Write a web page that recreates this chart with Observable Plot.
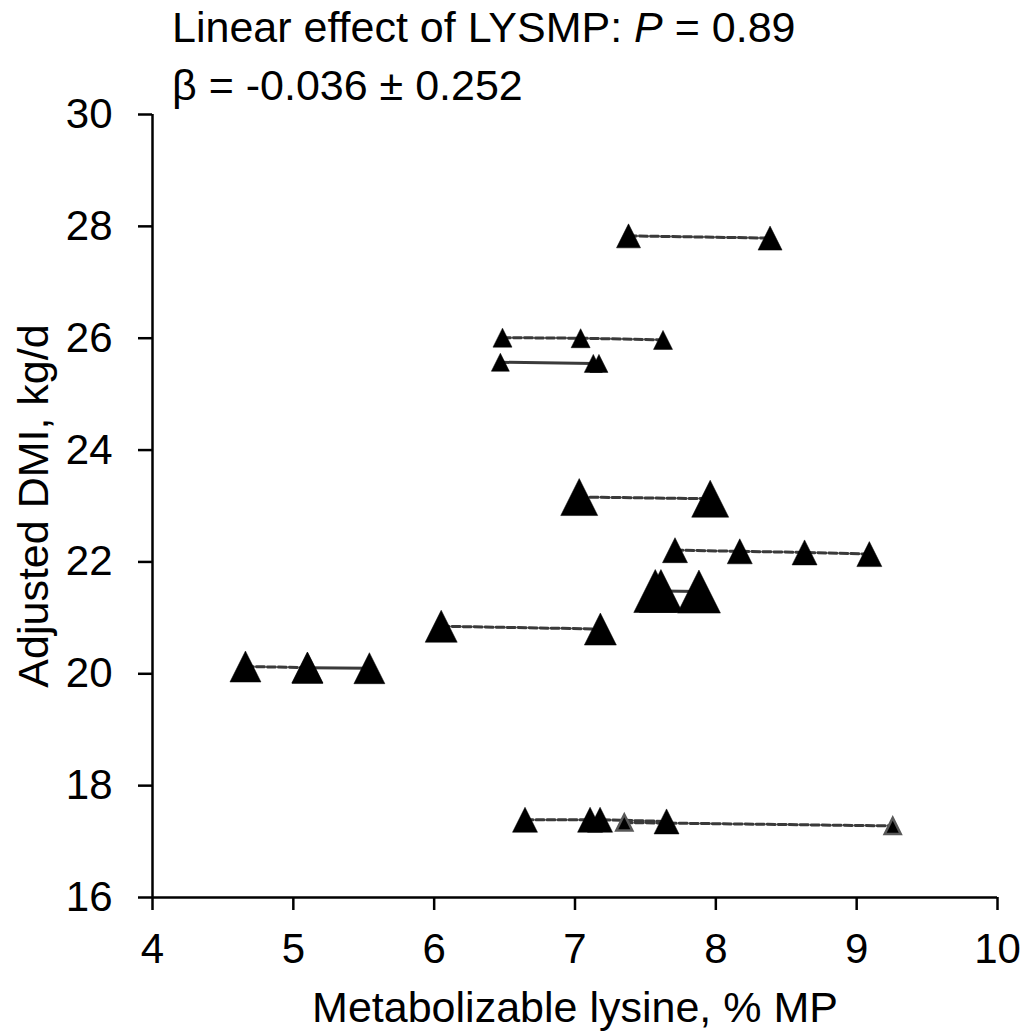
<!DOCTYPE html>
<html><head><meta charset="utf-8">
<script src="https://cdn.jsdelivr.net/npm/d3@7"></script>
<script src="https://cdn.jsdelivr.net/npm/@observablehq/plot@0.6"></script>
<style>
body{margin:0;background:#fff;}
#wrap{position:relative;width:1025px;height:1031px;}
#title{position:absolute;left:172px;top:-2px;font-family:"Liberation Sans",Arial,sans-serif;font-size:43px;line-height:58px;color:#000;white-space:nowrap;}
</style></head><body>
<div id="wrap"><div id="chart"></div><div id="title"><div>Linear effect of LYSMP: <i>P</i> = 0.89</div><div>β = -0.036 ± 0.252</div></div></div>
<script>
// Metabolizable lysine, % MP
const lysine = [7.38, 8.385,
  6.485, 7.04, 7.625,
  6.47, 7.13, 7.17,
  7.03, 7.96,
  7.71, 8.17, 8.63, 9.09,
  7.57, 7.61, 7.88,
  6.05, 7.18,
  4.66, 5.10,
  5.10, 5.54,
  6.645, 7.107, 7.178, 7.65,
  7.35, 9.256];
// Adjusted DMI, kg/d
const dmi = [27.83, 27.79,
  26.01, 26.00, 25.97,
  25.57, 25.55, 25.55,
  23.16, 23.13,
  22.21, 22.19, 22.17, 22.14,
  21.48, 21.48, 21.47,
  20.85, 20.80,
  20.13, 20.11,
  20.11, 20.10,
  17.39, 17.39, 17.39, 17.36,
  17.34, 17.28];
const study = ["A","A","B","B","B","C","C","C","D","D","E","E","E","E","F","F","F","G","G","H","H","I","I","J","J","J","J","K","K"];
// study weight (marker size)
const weight = [24,24,19,19,19,18,18,18,37,37,25,25,25,25,43,43,43,32,32,31,31,31,31,25,25,25,25,16,16];
const xTicks = [4,5,6,7,8,9,10];
const yTicks = [16,18,20,22,24,26,28,30];
const solidStudies = ["C","F","I"];
const outlinedStudies = ["K"];

const data = lysine.map((x,i)=>({x, y: dmi[i], study: study[i], weight: weight[i]}));
const dashed = data.filter(d=>!solidStudies.includes(d.study));
const solid = data.filter(d=>solidStudies.includes(d.study));
const filled = data.filter(d=>!outlinedStudies.includes(d.study));
const outlined = data.filter(d=>outlinedStudies.includes(d.study));

const tri = {draw(ctx, size){ const w = 2*Math.sqrt(size/Math.PI); ctx.moveTo(0,-w/2); ctx.lineTo(w/2,w/2); ctx.lineTo(-w/2,w/2); ctx.closePath(); }};

const chart = Plot.plot({
  width:1025, height:1031, marginTop:114, marginLeft:152, marginRight:28, marginBottom:134,
  style:{fontFamily:'"Liberation Sans", Arial, sans-serif', fontSize:"42px", color:"#000", background:"#fff", overflow:"visible"},
  x:{domain:[4,10]}, y:{domain:[16,30]},
  r:{type:"linear", domain:[0,50], range:[0,25]},
  marks:[
    Plot.ruleX([4],{stroke:"#000",strokeWidth:2.5}),
    Plot.ruleY([16],{stroke:"#000",strokeWidth:2.5}),
    Plot.axisX({ticks:xTicks, tickSize:13, tickPadding:23, strokeWidth:2.5, label:null, tickFormat:d=>String(d)}),
    Plot.axisY({ticks:yTicks, tickSize:14, tickPadding:26, strokeWidth:2.5, label:null, tickFormat:d=>String(d)}),
    Plot.line(dashed,{x:"x",y:"y",z:"study",stroke:"#3a3a3a",strokeWidth:3,strokeDasharray:"8,3"}),
    Plot.line(solid,{x:"x",y:"y",z:"study",stroke:"#3a3a3a",strokeWidth:3}),
    Plot.dot(filled,{x:"x",y:"y",r:"weight",symbol:tri,fill:"#000",stroke:"#000",strokeWidth:0.5}),
    Plot.dot(outlined,{x:"x",y:"y",r:"weight",symbol:tri,fill:"#000",stroke:"#595959",strokeWidth:2.5}),
    Plot.text(["Metabolizable lysine, % MP"],{text:d=>d, frameAnchor:"bottom", lineAnchor:"bottom", dy:124, fontSize:43}),
    Plot.text(["Adjusted DMI, kg/d"],{text:d=>d, frameAnchor:"left", textAnchor:"middle", rotate:-90, lineAnchor:"bottom", dx:-105, fontSize:43})
  ]
});
document.getElementById("chart").appendChild(chart);
</script>
</body></html>
